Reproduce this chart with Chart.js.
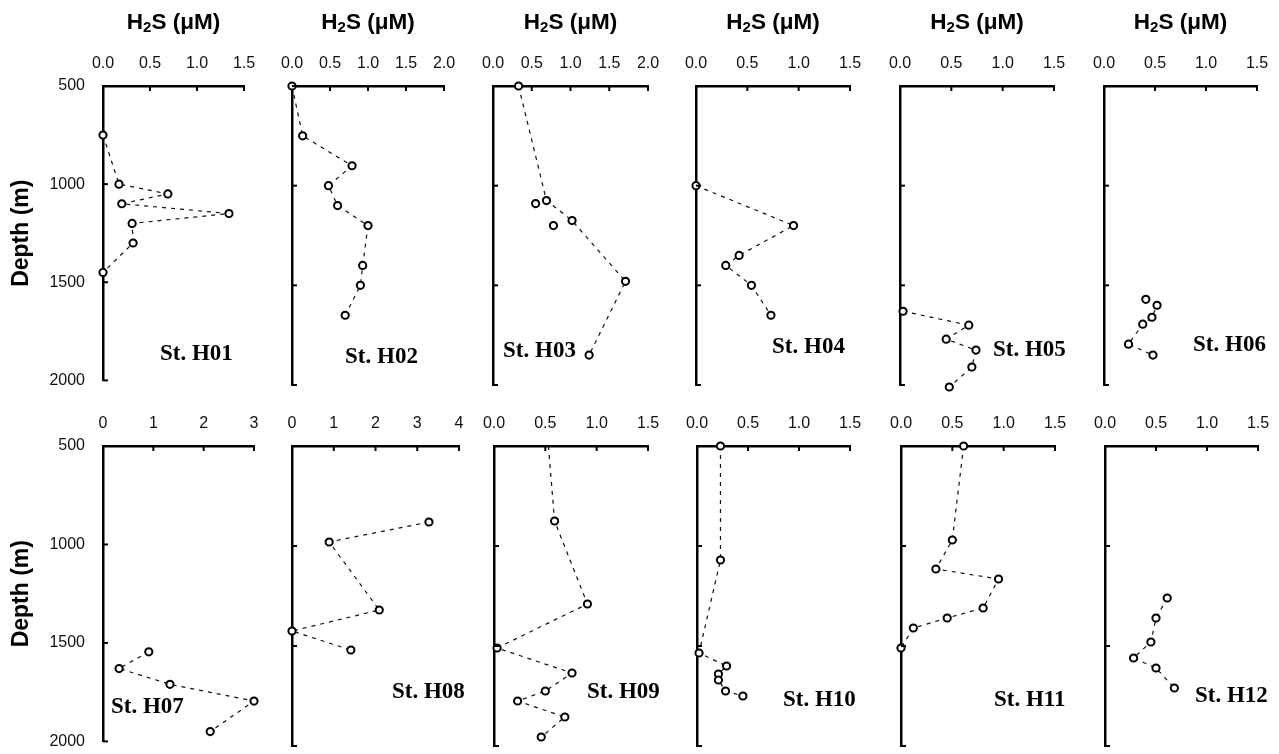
<!DOCTYPE html>
<html>
<head>
<meta charset="utf-8">
<script src="https://cdn.jsdelivr.net/npm/chart.js@4.4.1/dist/chart.umd.min.js"></script>
<style>
  html, body { margin: 0; padding: 0; background: #fff; }
  #wrap { position: relative; width: 1279px; height: 754px; overflow: hidden; background: #fff; }
  #wrap canvas { position: absolute; }
</style>
</head>
<body>
<div id="wrap"></div>
<script>
// stations, in reading order (top row H01-H06, bottom row H07-H12)
const stations = ["St. H01","St. H02","St. H03","St. H04","St. H05","St. H06",
                  "St. H07","St. H08","St. H09","St. H10","St. H11","St. H12"];

// H2S (uM) and depth (m)
const h01X = [0.00, 0.17, 0.69, 0.20, 1.34, 0.31, 0.32, 0.00];
const h01D = [750, 1000, 1050, 1100, 1150, 1200, 1300, 1450];
const h02X = [0.00, 0.14, 0.79, 0.48, 0.60, 1.00, 0.93, 0.90, 0.70];
const h02D = [500, 750, 900, 1000, 1100, 1200, 1400, 1500, 1650];
const h03X = [0.33, 0.69, 1.02, 1.71, 1.24];
const h03D = [500, 1075, 1175, 1480, 1850];
const h03LooseX = [0.55, 0.78];      // samples not on the dashed line
const h03LooseD = [1090, 1200];
const h04X = [0.00, 0.95, 0.42, 0.29, 0.54, 0.73];
const h04D = [1000, 1200, 1350, 1400, 1500, 1650];
const h05X = [0.03, 0.67, 0.45, 0.74, 0.70, 0.48];
const h05D = [1630, 1700, 1770, 1825, 1910, 2010];
const h06X = [0.41, 0.52, 0.47, 0.38, 0.24, 0.48];
const h06D = [1570, 1600, 1660, 1695, 1795, 1850];
const h07X = [0.91, 0.32, 1.33, 3.00, 2.13];
const h07D = [1545, 1630, 1710, 1795, 1950];
const h08X = [3.28, 0.89, 2.09, 0.00, 1.41];
const h08D = [880, 980, 1320, 1425, 1520];
const h09X = [0.53, 0.59, 0.91, 0.03, 0.76, 0.50, 0.23, 0.69, 0.46];
const h09D = [500, 875, 1290, 1510, 1635, 1725, 1775, 1855, 1955];
const h10X = [0.23, 0.23, 0.02, 0.29, 0.21, 0.21, 0.28, 0.45];
const h10D = [500, 1070, 1535, 1600, 1640, 1670, 1725, 1750];
const h11X = [0.61, 0.50, 0.34, 0.95, 0.80, 0.45, 0.12, 0.00];
const h11D = [500, 970, 1115, 1165, 1310, 1360, 1410, 1510];
const h12X = [0.61, 0.50, 0.45, 0.28, 0.50, 0.68];
const h12D = [1260, 1360, 1480, 1560, 1610, 1710];

const xMax  = [1.5, 2, 2, 1.5, 1.5, 1.5, 3, 4, 1.5, 1.5, 1.5, 1.5];
const xStep = [0.5, 0.5, 0.5, 0.5, 0.5, 0.5, 1, 1, 0.5, 0.5, 0.5, 0.5];
const depthTicks = [500, 1000, 1500, 2000];

const series = [
  [h01X, h01D], [h02X, h02D], [h03X, h03D], [h04X, h04D], [h05X, h05D], [h06X, h06D],
  [h07X, h07D], [h08X, h08D], [h09X, h09D], [h10X, h10D], [h11X, h11D], [h12X, h12D]
];

// layout (pixels of the page)
const plotLeft  = [103, 292, 493, 696, 900, 1104, 103, 292, 494, 697, 901, 1105];
const plotRight = [244, 444, 648, 850, 1054, 1257, 254, 459, 648, 850, 1055, 1258];
const rowTop = [86, 446];
const rowBottom = [385, 746];
const canvasTop = [0, 400];
// station label, as fraction of plot box (left edge, middle)
const labelAt = [[0.404,0.91],[0.349,0.906],[0.065,0.886],[0.494,0.873],[0.604,0.883],[0.582,0.866],
                 [0.053,0.883],[0.599,0.82],[0.604,0.82],[0.562,0.847],[0.604,0.847],[0.588,0.833]];

const sans = '"Liberation Sans", Arial, Helvetica, sans-serif';
const serif = '"Liberation Serif", "Times New Roman", serif';

const pts = (xs, ds) => xs.map((x, i) => ({x, y: ds[i]}));

const inwardTicks = {
  id: "inwardTicks",
  afterDraw(chart) {
    const {ctx, chartArea: a, scales: {x, y}} = chart;
    ctx.save();
    ctx.strokeStyle = "#000";
    ctx.lineWidth = 2;
    x.ticks.forEach(t => {
      if (t.value === 0) return;
      const px = x.getPixelForValue(t.value);
      ctx.beginPath(); ctx.moveTo(px, a.top); ctx.lineTo(px, a.top + 5); ctx.stroke();
    });
    y.ticks.forEach(t => {
      const py = y.getPixelForValue(t.value);
      ctx.beginPath(); ctx.moveTo(a.left, py); ctx.lineTo(a.left + 5, py); ctx.stroke();
    });
    ctx.restore();
  }
};

const panelText = {
  id: "panelText",
  afterDraw(chart, args, opts) {
    const {ctx, chartArea: a} = chart;
    ctx.save();
    ctx.fillStyle = "#000";
    ctx.textBaseline = "middle";
    ctx.textAlign = "left";
    ctx.font = "bold 23px " + serif;
    ctx.fillText(opts.label, a.left + opts.at[0] * (a.right - a.left), a.top + opts.at[1] * (a.bottom - a.top));
    if (opts.title) {
      // H2S (uM) with a subscript 2
      const big = "bold 22.5px " + sans, small = "bold 15px " + sans;
      ctx.font = big;  const w1 = ctx.measureText("H").width, w3 = ctx.measureText("S (\u03bcM)").width;
      ctx.font = small; const w2 = ctx.measureText("2").width;
      let tx = (a.left + a.right) / 2 - (w1 + w2 + w3) / 2;
      const ty = 23;
      ctx.font = big;  ctx.fillText("H", tx, ty); tx += w1;
      ctx.font = small; ctx.fillText("2", tx, ty + 5); tx += w2;
      ctx.font = big;  ctx.fillText("S (\u03bcM)", tx, ty);
    }
    ctx.restore();
  }
};

const wrap = document.getElementById("wrap");

stations.forEach((name, i) => {
  const row = i < 6 ? 0 : 1;
  const col = i % 6;
  const yW = col === 0 ? plotLeft[i] : 30;
  const xH = rowTop[row] - canvasTop[row];
  const padR = 25, padB = 15;
  const w = yW + (plotRight[i] - plotLeft[i]) + padR;
  const h = xH + (rowBottom[row] - rowTop[row]) + padB;

  const cv = document.createElement("canvas");
  cv.width = w; cv.height = h;
  cv.style.width = w + "px"; cv.style.height = h + "px";
  cv.style.left = (plotLeft[i] - yW) + "px";
  cv.style.top = canvasTop[row] + "px";
  wrap.appendChild(cv);

  const [xs, ds] = series[i];
  const datasets = [{
    data: pts(xs, ds),
    showLine: true,
    borderColor: "#111",
    borderWidth: 1.2,
    borderDash: [4, 5],
    pointRadius: xs.map((_, k) => (i === 8 && k === 0) ? 0 : 3.6),
    pointBorderWidth: 2,
    pointBorderColor: "#000",
    pointBackgroundColor: "#fff",
    clip: false
  }];
  if (i === 2) {
    datasets.push({
      data: pts(h03LooseX, h03LooseD),
      showLine: false,
      pointRadius: 3.6,
      pointBorderWidth: 2,
      pointBorderColor: "#000",
      pointBackgroundColor: "#fff",
      clip: false
    });
  }

  new Chart(cv, {
    type: "scatter",
    data: {datasets},
    options: {
      responsive: false,
      animation: false,
      events: [],
      layout: {padding: {left: 0, top: 0, right: padR, bottom: padB}},
      plugins: {
        legend: {display: false},
        tooltip: {enabled: false},
        panelText: {label: name, at: labelAt[i], title: row === 0}
      },
      scales: {
        x: {
          type: "linear",
          position: "top",
          min: 0,
          max: xMax[i],
          afterFit: s => { s.height = xH; },
          grid: {display: false},
          border: {display: true, color: "#000", width: 2.5},
          ticks: {
            stepSize: xStep[i],
            padding: 5,
            color: "#111",
            font: {family: sans, size: 16},
            callback: v => xStep[i] < 1 ? Number(v).toFixed(1) : String(v)
          }
        },
        y: {
          type: "linear",
          reverse: true,
          min: 500,
          max: 2000,
          afterFit: s => { s.width = yW; },
          afterBuildTicks: s => { s.ticks = depthTicks.map(v => ({value: v})); },
          grid: {display: false},
          border: {display: true, color: "#000", width: 2.5},
          title: {
            display: col === 0,
            text: "Depth (m)",
            color: "#000",
            font: {family: sans, size: 23, weight: "bold"},
            padding: {top: 8, bottom: 0}
          },
          ticks: {
            display: col === 0,
            padding: 10,
            color: "#111",
            font: {family: sans, size: 16},
            callback: v => String(v)
          }
        }
      }
    },
    plugins: [inwardTicks, panelText]
  });
});
</script>
</body>
</html>
